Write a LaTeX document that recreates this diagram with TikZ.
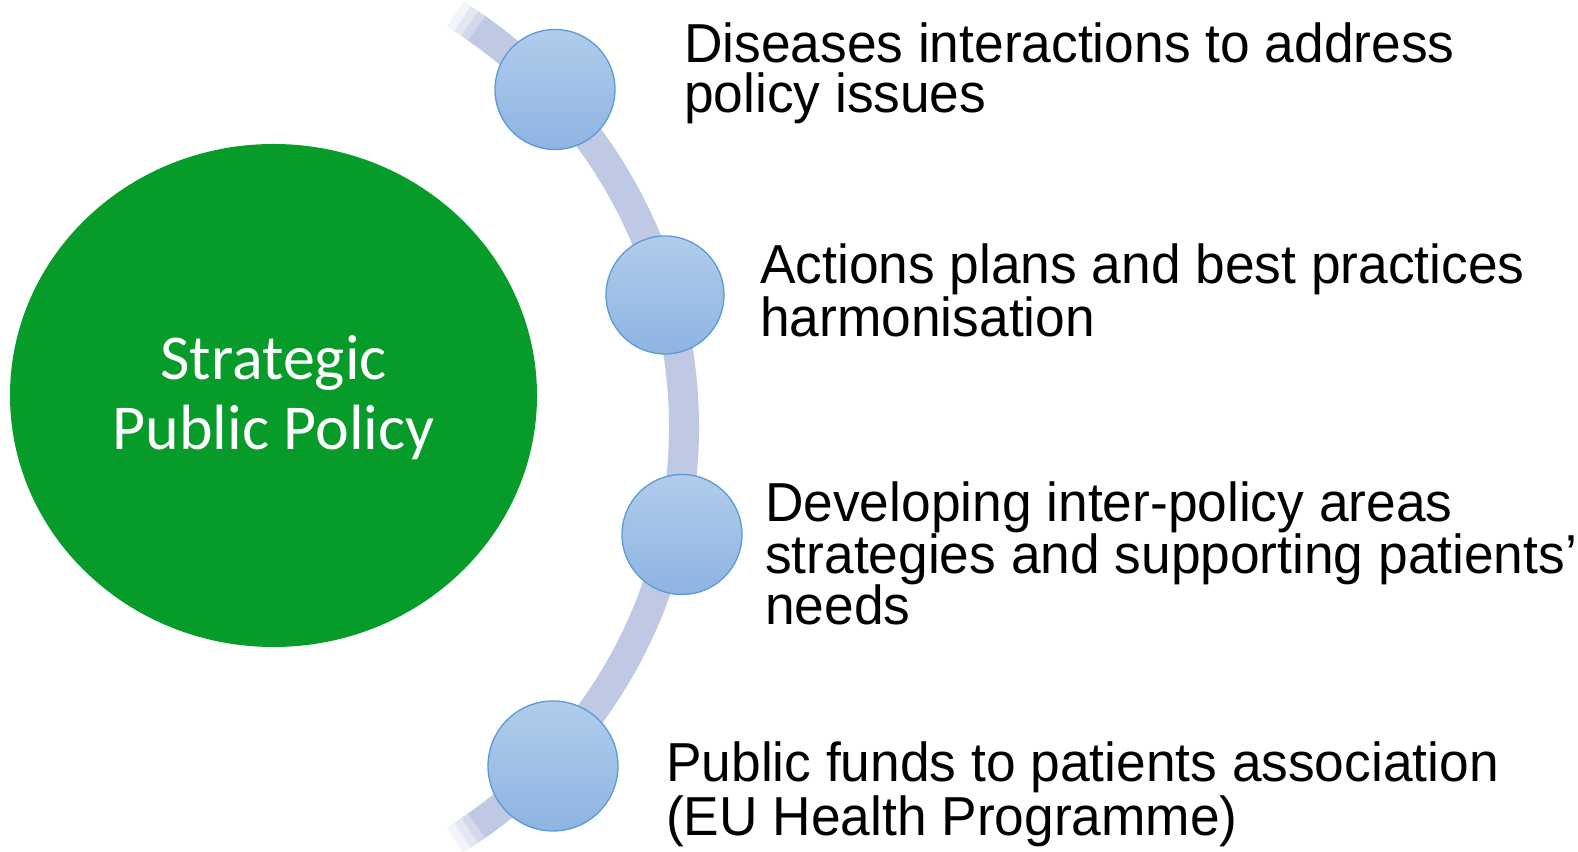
\documentclass[tikz,border=0pt]{standalone}
\usepackage{fontspec}
\usetikzlibrary{shapes.geometric}
\setmainfont{Liberation Sans}
\newfontfamily\calib{Carlito}
\definecolor{bandc}{RGB}{192,201,227}
\definecolor{greenc}{RGB}{7,155,42}
\definecolor{bluetop}{RGB}{177,204,235}
\definecolor{bluebot}{RGB}{142,180,227}
\definecolor{blueline}{RGB}{91,155,213}
\tikzset{
  band/.style={line width=30pt, draw=bandc},
  dot/.style={circle, draw=blueline, line width=1.3pt, top color=bluetop, bottom color=bluebot, inner sep=0pt},
  item/.style={anchor=base west, align=left, inner sep=0pt, yscale=1.03, transform shape, font=\fontsize{53.3}{#1}\selectfont, text=black},
}
\begin{document}
\begin{tikzpicture}[x=1pt,y=1pt]
\useasboundingbox (0,0) rectangle (1578,851);
\coordinate (arcc) at (197,424);
% band
\draw[band] (arcc) ++(55:487) arc[start angle=55, end angle=-55, radius=487];
\draw[band, draw=bandc!70] (arcc) ++(56:487) arc[start angle=56, end angle=55, radius=487];
\draw[band, draw=bandc!45] (arcc) ++(57:487) arc[start angle=57, end angle=56, radius=487];
\draw[band, draw=bandc!20] (arcc) ++(58:487) arc[start angle=58, end angle=57, radius=487];
\draw[band, draw=bandc!70] (arcc) ++(-55:487) arc[start angle=-55, end angle=-56, radius=487];
\draw[band, draw=bandc!45] (arcc) ++(-56:487) arc[start angle=-56, end angle=-57, radius=487];
\draw[band, draw=bandc!20] (arcc) ++(-57:487) arc[start angle=-57, end angle=-58, radius=487];
% green circle
\node[ellipse, fill=greenc, minimum width=527pt, minimum height=503pt, inner sep=0pt] (main) at (273.5,455.5) {};
\node[align=center, text=white, font=\calib\fontsize{64}{70}\selectfont, inner sep=0pt, anchor=base] (maintext) at (273.5,401) {Strategic\\Public Policy};
% dots
\node[dot, minimum size=120pt] (d1) at (555,761.5) {};
\node[dot, minimum size=118pt] (d2) at (665,556) {};
\node[dot, minimum size=120pt] (d3) at (682,316.5) {};
\node[dot, minimum size=130pt] (d4) at (553,85) {};
% texts
\node[item=48.5] (t1) at (684,738.5) {Diseases interactions to address\\policy issues};
\node[item=52.4] (t2) at (760,514) {Actions plans and best practices\\harmonisation};
\node[item=50] (t3) at (765,226) {Developing inter-policy areas\\strategies and supporting patients’\\needs};
\node[item=52.4] (t4) at (666,16) {Public funds to patients association\\(EU Health Programme)};
\end{tikzpicture}
\end{document}
